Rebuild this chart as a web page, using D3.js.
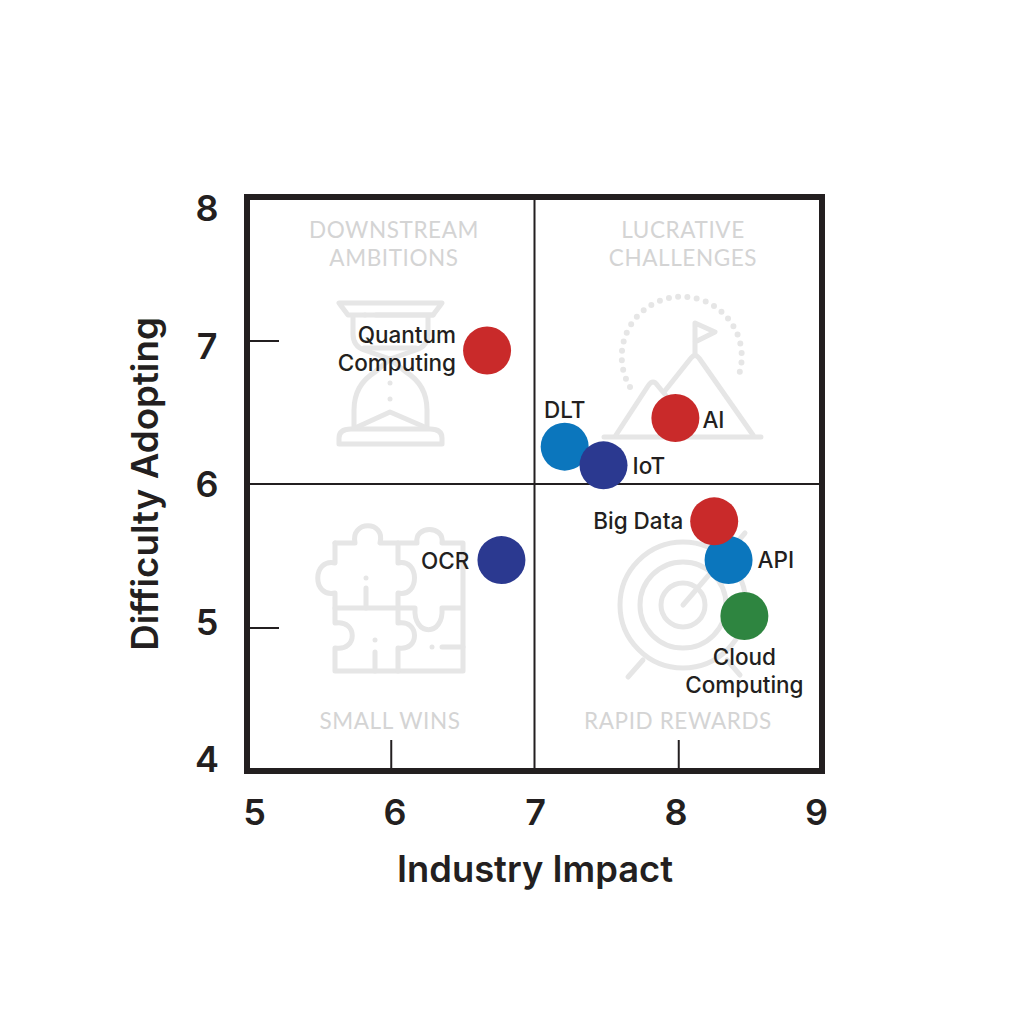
<!DOCTYPE html>
<html>
<head>
<meta charset="utf-8">
<script src="https://cdn.jsdelivr.net/npm/d3@7"></script>
<style>
    html, body { margin: 0; padding: 0; background: #fff; }
    svg { display: block; font-family: Lato, "Noto Sans", sans-serif; }
</style>
</head>
<body>
<svg width="1024" height="1024"></svg>
<script>
// data
const names = ["DLT", "IoT", "Quantum Computing", "AI", "OCR", "API", "Big Data", "Cloud Computing"];
const impact = [7.21, 7.48, 6.67, 7.98, 6.77, 8.35, 8.25, 8.46];
const difficulty = [6.26, 6.13, 6.93, 6.46, 5.47, 5.47, 5.74, 5.08];
const groups = ["blue", "navy", "red", "red", "navy", "blue", "red", "green"];
const xTicks = [5, 6, 7, 8, 9];
const yTicks = [4, 5, 6, 7, 8];
const quadrantTitles = [
    ["DOWNSTREAM", "AMBITIONS"],
    ["LUCRATIVE", "CHALLENGES"],
    ["SMALL WINS"],
    ["RAPID REWARDS"]
];

const colors = { red: "#c92a2a", blue: "#0b76bd", navy: "#2b3990", green: "#2e8540" };
const ink = "#231f20";
const faint = "#e6e6e6";
const font = "Inter, Lato, sans-serif";

const svg = d3.select("svg");
const scX = d3.scaleLinear().domain([5, 9]).range([247, 822]);
const scY = d3.scaleLinear().domain([4, 8]).range([771, 197]);
// the tick numbers sit a little inside the frame corners
const labelX = d3.scaleLinear().domain([5, 9]).range([254, 816]);
const labelY = d3.scaleLinear().domain([4, 8]).range([760, 209]);

function drawIcons() {
    const g = svg.append("g")
        .attr("fill", "none")
        .attr("stroke", faint)
        .attr("stroke-width", 5)
        .attr("stroke-linecap", "round")
        .attr("stroke-linejoin", "round");
    const paths = [
        // hourglass
        "M339 303H442L433 315H348Z",
        "M339 444H442V438Q442 429 430 429H351Q339 429 339 438Z",
        "M353 316V334Q353 346 364 350L390 359L416 350Q428 346 428 334V316",
        "M376 315H433",
        "M364 348H416",
        "M354 428V410Q354 385 375 372L390 359L406 372Q427 385 427 410V428",
        "M355 428L390 412L427 428",
        // mountain
        "M604 437H761",
        "M616 435L648 386Q653 378 658 386L668 398",
        "M664 392L691 358Q695 353 699 358L753 435",
        "M695 355V323L715 332L695 342",
        // puzzle
        "M335 543H355C350 520 386 520 380 543H398V563C420 558 420 598 398 593V608",
        "M398 543H417C414 525 445 525 442 543H463V671H335V648C358 652 358 619 335 623V608H415C413 637 444 637 442 608H463",
        "M335 608V593C312 598 312 558 335 563V543",
        "M398 608V623C420 619 420 652 398 648V671",
        "M366 588V608",
        "M375 652V671",
        "M442 647H463",
        // target
        "M683 605L745 533",
        "M643 660L628 677",
        "M727 660L740 675"
    ];
    g.selectAll("path.icon")
        .data(paths)
        .enter()
        .append("path")
        .attr("class", "icon")
        .attr("d", d => d);

    // dotted ring round the mountain
    g.append("path")
        .attr("d", "M630 387A60 60 0 1 1 737 380")
        .attr("stroke-width", 6)
        .attr("stroke-dasharray", "0 9.4");

    // loose dots of the hourglass and the puzzle
    const dots = [[365, 315], [390, 383], [390, 399], [366, 578], [375, 640], [432, 647]];
    g.selectAll("circle.dot")
        .data(dots)
        .enter()
        .append("circle")
        .attr("class", "dot")
        .attr("cx", d => d[0])
        .attr("cy", d => d[1])
        .attr("r", 2.5)
        .attr("fill", faint)
        .attr("stroke", "none");

    // target rings
    g.selectAll("circle.ring")
        .data([63, 43, 22])
        .enter()
        .append("circle")
        .attr("class", "ring")
        .attr("cx", 683)
        .attr("cy", 605)
        .attr("r", d => d);
}

function drawQuadrantTitles() {
    const places = [[394, 238], [683, 238], [390, 729], [678, 729]];
    quadrantTitles.forEach((lines, i) => {
        lines.forEach((line, j) => {
            svg.append("text")
                .attr("x", places[i][0])
                .attr("y", places[i][1] + j * 28)
                .attr("text-anchor", "middle")
                .attr("font-size", 22.5)
                .attr("letter-spacing", 0.6)
                .attr("fill", "#d4d4d4")
                .text(line);
        });
    });
}

function drawAxes() {
    // short inward ticks
    svg.append("g")
        .attr("transform", `translate(0, ${scY(4)})`)
        .call(d3.axisBottom(scX).tickValues([6, 8]).tickSize(-31).tickFormat(""))
        .call(g => g.select(".domain").remove())
        .selectAll("line").attr("stroke", ink).attr("stroke-width", 2);
    svg.append("g")
        .attr("transform", `translate(${scX(5)}, 0)`)
        .call(d3.axisLeft(scY).tickValues([5, 7]).tickSize(-32).tickFormat(""))
        .call(g => g.select(".domain").remove())
        .selectAll("line").attr("stroke", ink).attr("stroke-width", 2);

    // quadrant dividers
    svg.append("line")
        .attr("x1", scX(7)).attr("x2", scX(7))
        .attr("y1", scY(4)).attr("y2", scY(8))
        .attr("stroke", ink).attr("stroke-width", 2);
    svg.append("line")
        .attr("x1", scX(5)).attr("x2", scX(9))
        .attr("y1", scY(6)).attr("y2", scY(6))
        .attr("stroke", ink).attr("stroke-width", 2);

    // frame
    svg.append("rect")
        .attr("x", scX(5)).attr("y", scY(8))
        .attr("width", scX(9) - scX(5))
        .attr("height", scY(4) - scY(8))
        .attr("fill", "none")
        .attr("stroke", ink)
        .attr("stroke-width", 6);

    // tick numbers
    const xNums = svg.append("g")
        .attr("transform", "translate(0, 812)")
        .call(d3.axisBottom(labelX).tickValues(xTicks).tickSize(0).tickFormat(d3.format("d")));
    xNums.select(".domain").remove();
    xNums.selectAll("text")
        .attr("y", 0).attr("dy", "0.36em")
        .attr("font-family", font).attr("font-size", 36).attr("font-weight", 600).attr("fill", ink);
    const yNums = svg.append("g")
        .attr("transform", "translate(207, 0)")
        .call(d3.axisLeft(labelY).tickValues(yTicks).tickSize(0).tickFormat(d3.format("d")));
    yNums.select(".domain").remove();
    yNums.selectAll("text")
        .attr("x", 0).attr("dy", "0.33em")
        .attr("text-anchor", "middle")
        .attr("font-family", font).attr("font-size", 36).attr("font-weight", 600).attr("fill", ink);

    // axis titles
    svg.append("text")
        .attr("x", 535).attr("y", 882)
        .attr("text-anchor", "middle")
        .attr("font-family", font).attr("font-size", 36.3).attr("font-weight", 600).attr("fill", ink)
        .text("Industry Impact");
    svg.append("text")
        .attr("transform", "translate(158, 484) rotate(-90)")
        .attr("text-anchor", "middle")
        .attr("font-family", font).attr("font-size", 36.7).attr("font-weight", 600).attr("fill", ink)
        .text("Difficulty Adopting");
}

function drawPoints() {
    const points = names.map((name, i) => ({ name, x: impact[i], y: difficulty[i], group: groups[i] }));
    svg.append("g")
        .selectAll("circle")
        .data(points)
        .enter()
        .append("circle")
        .attr("cx", d => scX(d.x))
        .attr("cy", d => scY(d.y))
        .attr("r", 24)
        .attr("fill", d => colors[d.group]);
}

function drawPointLabels() {
    // where each label sits from its circle: dx, dy of first baseline, anchor
    const placing = {
        "DLT": [0, -29, "middle"],
        "IoT": [29, 9, "start"],
        "Quantum Computing": [-31, -8, "end"],
        "AI": [27, 10, "start"],
        "OCR": [-32, 9, "end"],
        "API": [29, 8, "start"],
        "Big Data": [-31, 8, "end"],
        "Cloud Computing": [0, 49, "middle"]
    };
    names.forEach((name, i) => {
        const [dx, dy, anchor] = placing[name];
        const lines = (name === "Quantum Computing" || name === "Cloud Computing") ? name.split(" ") : [name];
        lines.forEach((line, j) => {
            svg.append("text")
                .attr("x", scX(impact[i]) + dx)
                .attr("y", scY(difficulty[i]) + dy + j * 28)
                .attr("text-anchor", anchor)
                .attr("font-family", font)
                .attr("font-size", 22.5)
                .attr("font-weight", 500)
                .attr("fill", ink)
                .text(line);
        });
    });
}

drawIcons();
drawQuadrantTitles();
drawAxes();
drawPoints();
drawPointLabels();
</script>
</body>
</html>
